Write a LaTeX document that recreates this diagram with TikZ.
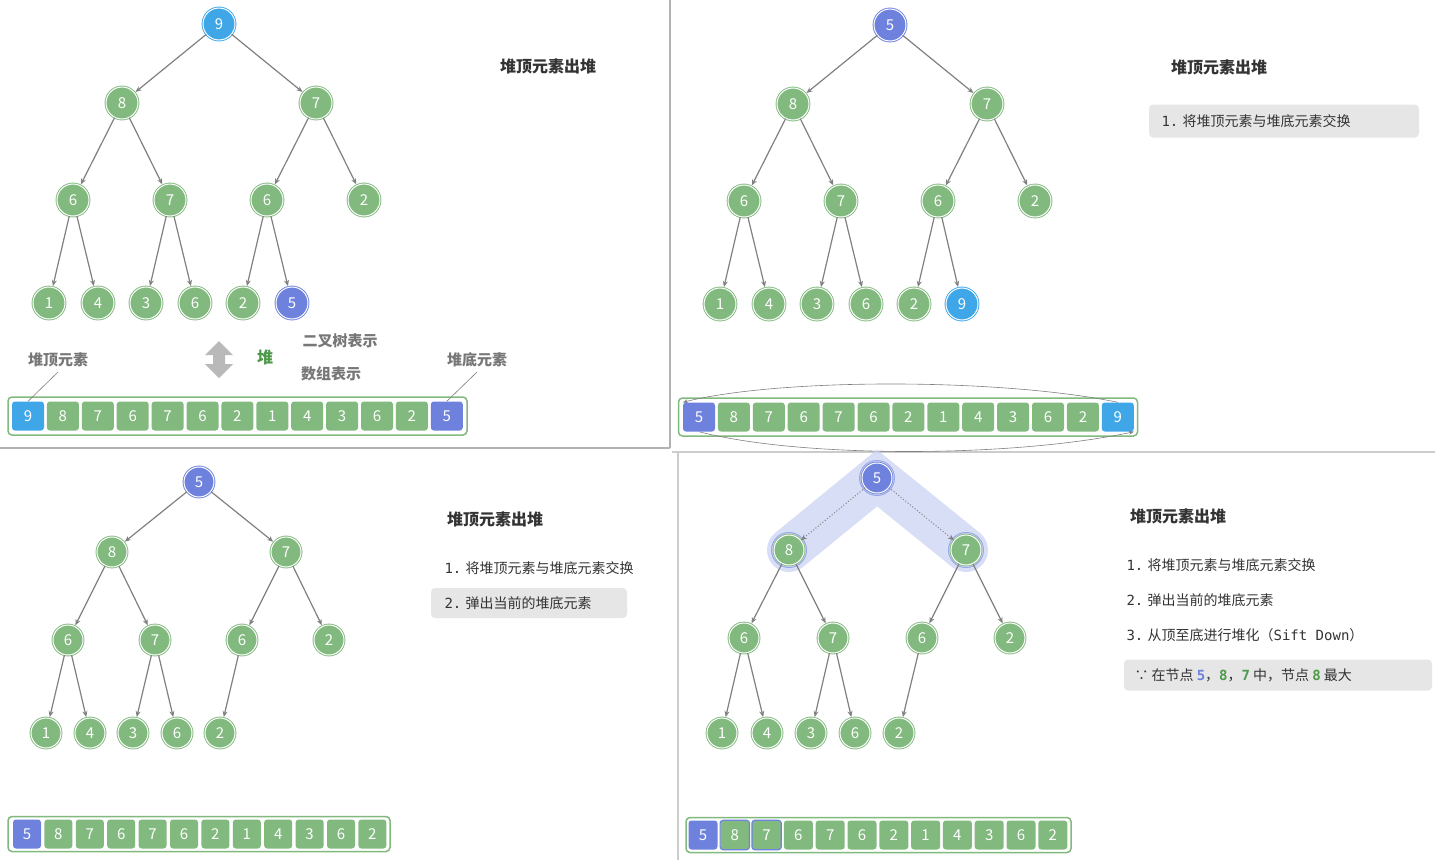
\documentclass[tikz,border=0pt]{standalone}
\usepackage{fontspec}
\newfontfamily\cjk{Noto Sans CJK SC}
\newfontfamily\mono{DejaVu Sans Mono}
\usetikzlibrary{arrows.meta}
\definecolor{G}{HTML}{82B97F}
\definecolor{GD}{HTML}{4E9A4A}
\definecolor{B}{HTML}{3FA6E8}
\definecolor{P}{HTML}{6E82DD}
\definecolor{HL}{HTML}{C9D1F4}
\definecolor{TX}{HTML}{333333}
\definecolor{LG}{HTML}{777777}
\definecolor{BX}{HTML}{E6E6E6}
\begin{document}
\begin{tikzpicture}[x=1pt,y=-1pt,
 tn/.style={circle,minimum size=#1,inner sep=0pt,line width=0.9pt,double=white,double distance=1pt,text=white,font=\cjk\fontsize{15}{15}\selectfont},
 tn/.default=32pt,
 edge/.style={draw=gray,line width=1.2pt,-{Stealth[length=6pt,width=5pt]},shorten >=1pt},
 cell/.style={rounded corners=3pt,minimum width=#1,minimum height=29pt,inner sep=0pt,text=white,font=\cjk\fontsize{15}{15}\selectfont},
 title/.style={text=TX,font=\cjk\bfseries\fontsize{16}{16}\selectfont},
 body/.style={text=TX,font=\cjk\fontsize{14}{14}\selectfont,anchor=west},
 lab/.style={text=LG,font=\cjk\bfseries\fontsize{15}{15}\selectfont},
 outer/.style={draw=G,line width=1.5pt,rounded corners=4pt,fill=white}]
\useasboundingbox[fill=white] (0,0) rectangle (1435,860);
% dividers
\draw[gray!60,line width=2pt] (670,0) -- (670,448);
\draw[gray!60,line width=2pt] (0,448) -- (670,448);
\draw[gray!40,line width=1.5pt] (678,452) -- (678,860);
\draw[gray!40,line width=1.5pt] (672,452) -- (1435,452);

% ===== Panel A =====
\foreach \n/\x/\y/\t/\c in {0/219/24/9/B,1/122/103/8/G,2/316/103/7/G,3/73/200/6/G,4/170/200/7/G,5/267/200/6/G,6/364/200/2/G,7/49/303/1/G,8/98/303/4/G,9/146/303/3/G,10/195/303/6/G,11/243/303/2/G,12/292/303/5/P}
  \node[tn,fill=\c,draw=\c] (a\n) at (\x,\y) {\t};
\foreach \i in {1,...,12}{\pgfmathtruncatemacro\p{(\i-1)/2}\draw[edge] (a\p) -- (a\i);}
\node[title] (ta) at (548,66) {堆顶元素出堆};
\node[lab] (la1) at (58,360) {堆顶元素};
\node[lab] (la2) at (477,360) {堆底元素};
\node[lab] (la3) at (340,341) {二叉树表示};
\node[lab] (la4) at (331,374) {数组表示};
\node[text=GD,font=\cjk\bfseries\fontsize{16}{16}\selectfont] (la5) at (265,357) {堆};
\fill[gray!55] (219,341) -- (233,355) -- (225,355) -- (225,364) -- (233,364) -- (219,378) -- (205,364) -- (213,364) -- (213,355) -- (205,355) -- cycle;
\node[outer,minimum width=459pt,minimum height=38pt] (arrA) at (237.5,416) {};
\foreach \t/\c [count=\k from 0] in {9/B,8/G,7/G,6/G,7/G,6/G,2/G,1/G,4/G,3/G,6/G,2/G,5/P}
  \node[cell=32pt,fill=\c] (ca\k) at (28+\k*34.9,416) {\t};
\draw[gray,line width=0.6pt] (58,372) -- (ca0.north);
\draw[gray,line width=0.6pt] (477,372) -- (ca12.north);

% ===== Panel B =====
\foreach \n/\x/\y/\t/\c in {0/890/25/5/P,1/793/104/8/G,2/987/104/7/G,3/744/201/6/G,4/841/201/7/G,5/938/201/6/G,6/1035/201/2/G,7/720/304/1/G,8/769/304/4/G,9/817/304/3/G,10/866/304/6/G,11/914/304/2/G,12/962/304/9/B}
  \node[tn,fill=\c,draw=\c] (b\n) at (\x,\y) {\t};
\foreach \i in {1,...,12}{\pgfmathtruncatemacro\p{(\i-1)/2}\draw[edge] (b\p) -- (b\i);}
\node[title] (tb) at (1219,67) {堆顶元素出堆};
\node[fill=BX,rounded corners=4pt,minimum width=270pt,minimum height=33pt] (bxb) at (1284,121) {};
\node[body] (tb1) at (1158,121) {{\mono 1.} 将堆顶元素与堆底元素交换};
\node[outer,minimum width=459pt,minimum height=38pt] (arrB) at (908,417) {};
\foreach \t/\c [count=\k from 0] in {5/P,8/G,7/G,6/G,7/G,6/G,2/G,1/G,4/G,3/G,6/G,2/G,9/B}
  \node[cell=32pt,fill=\c] (cb\k) at (699+\k*34.9,417) {\t};
\draw[gray,line width=0.6pt,-{Stealth[length=5pt]}] (cb12.north) .. controls (1000,378) and (780,378) .. (cb0.north west);
\draw[gray,line width=0.6pt,-{Stealth[length=5pt]}] (cb0.south) .. controls (800,458) and (1010,458) .. (cb12.south east);

% ===== Panel C =====
\foreach \n/\x/\y/\t/\c in {0/199/482/5/P,1/112/552/8/G,2/286/552/7/G,3/68/640/6/G,4/155/640/7/G,5/242/640/6/G,6/329/640/2/G,7/46/733/1/G,8/90/733/4/G,9/133/733/3/G,10/177/733/6/G,11/220/733/2/G}
  \node[tn=30pt,fill=\c,draw=\c] (c\n) at (\x,\y) {\t};
\foreach \i in {1,...,11}{\pgfmathtruncatemacro\p{(\i-1)/2}\draw[edge] (c\p) -- (c\i);}
\node[title] (tc) at (495,519) {堆顶元素出堆};
\node[body] (tc1) at (441,568) {{\mono 1.} 将堆顶元素与堆底元素交换};
\node[fill=BX,rounded corners=4pt,minimum width=196pt,minimum height=30pt] (bxc) at (529,603) {};
\node[body] (tc2) at (441,603) {{\mono 2.} 弹出当前的堆底元素};
\node[outer,minimum width=382pt,minimum height=35pt] (arrC) at (199,834) {};
\foreach \t/\c [count=\k from 0] in {5/P,8/G,7/G,6/G,7/G,6/G,2/G,1/G,4/G,3/G,6/G,2/G}
  \node[cell=28pt,fill=\c] (cc\k) at (27+\k*31.4,834) {\t};

% ===== Panel D =====
\draw[HL,opacity=0.7,line width=44pt,line cap=round] (789,550) -- (877,478) -- (966,550);
\foreach \n/\x/\y/\t/\c in {0/877/478/5/P,1/789/550/8/G,2/966/550/7/G,3/744/638/6/G,4/833/638/7/G,5/922/638/6/G,6/1010/638/2/G,7/722/733/1/G,8/767/733/4/G,9/811/733/3/G,10/855/733/6/G,11/899/733/2/G}
  \node[tn=30pt,fill=\c,draw=\c] (d\n) at (\x,\y) {\t};
\draw[P!70,line width=1pt] (d1) circle (17.5pt) (d2) circle (17.5pt) (d0) circle (17.5pt);
\draw[gray,line width=1pt,dotted,-{Stealth[length=6pt,width=5pt]}] (d0) -- (d1);
\draw[gray,line width=1pt,dotted,-{Stealth[length=6pt,width=5pt]}] (d0) -- (d2);
\foreach \i in {3,...,11}{\pgfmathtruncatemacro\p{(\i-1)/2}\draw[edge] (d\p) -- (d\i);}
\node[title] (td) at (1178,516) {堆顶元素出堆};
\node[body] (td1) at (1123,565) {{\mono 1.} 将堆顶元素与堆底元素交换};
\node[body] (td2) at (1123,600) {{\mono 2.} 弹出当前的堆底元素};
\node[body] (td3) at (1123,635) {{\mono 3.} 从顶至底进行堆化（{\mono Sift Down}）};
\node[fill=BX,rounded corners=4pt,minimum width=308pt,minimum height=31pt] (bxd) at (1278,675) {};
\node[body] (td4) at (1131,675) {∵ 在节点 {\mono\bfseries\color{P}5}，{\mono\bfseries\color{GD}8}，{\mono\bfseries\color{GD}7} 中，节点 {\mono\bfseries\color{GD}8} 最大};
\node[outer,minimum width=385pt,minimum height=35pt] (arrD) at (878.5,835) {};
\foreach \t/\c [count=\k from 0] in {5/P,8/G,7/G,6/G,7/G,6/G,2/G,1/G,4/G,3/G,6/G,2/G}
  \node[cell=29pt,fill=\c] (cd\k) at (703+\k*31.8,835) {\t};
\draw[P,line width=1.2pt,rounded corners=3pt] (cd1.south west) rectangle (cd1.north east);
\draw[P,line width=1.2pt,rounded corners=3pt] (cd2.south west) rectangle (cd2.north east);
\end{tikzpicture}
\end{document}
